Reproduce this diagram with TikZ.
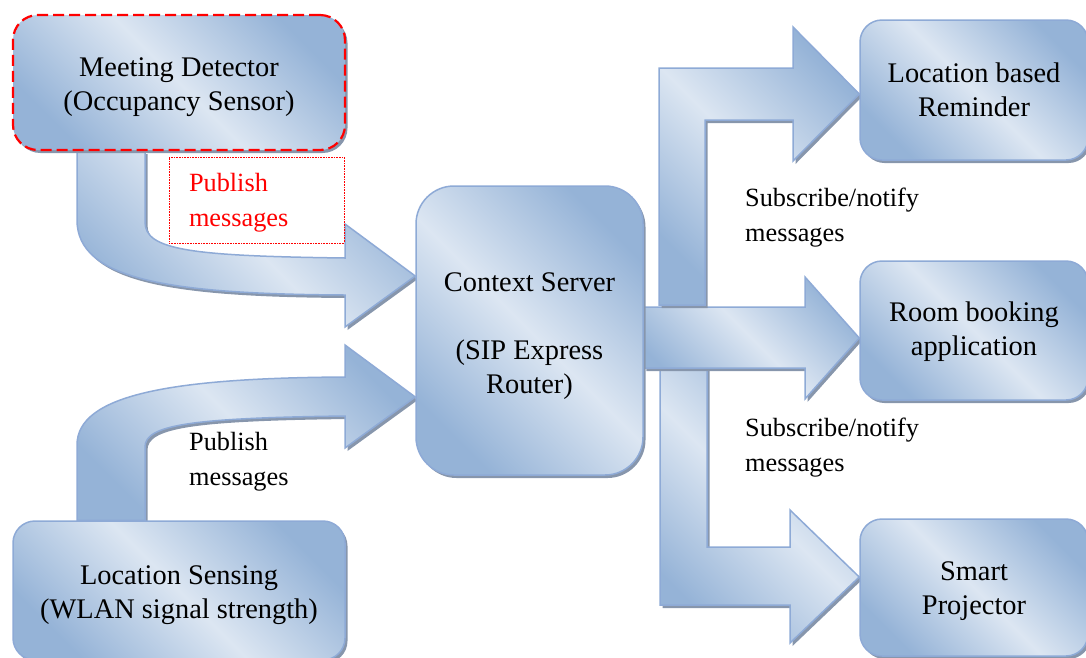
\documentclass[tikz,border=0pt]{standalone}
\usepackage{fontspec}
\setmainfont{Liberation Serif}
\usetikzlibrary{shadows}
\pgfdeclarelayer{background}
\pgfsetlayers{background,main}

\definecolor{boxdark}{HTML}{95B3D7}
\definecolor{boxlight}{HTML}{DCE6F2}
\definecolor{boxedge}{HTML}{8EAAD6}
\definecolor{shadowgrey}{HTML}{8796AC}

\newcommand\bigtext{\fontsize{28.4}{34}\selectfont}
\newcommand\smalltext{\fontsize{26.3}{35}\selectfont}
% invisible strut: a taller first line pushes the text block down
\newcommand\textdrop[1]{\rule{0pt}{#1}}

\tikzset{
  glossy/.style={draw=boxedge, line width=1.5pt,
    left color=boxdark, right color=boxdark, middle color=boxlight,
    shading angle=-45,
    drop shadow={shadow xshift=2.5pt, shadow yshift=-3pt, fill=shadowgrey, opacity=1}},
  unit/.style={glossy, rounded corners=22pt, align=center, font=\bigtext, inner sep=0pt},
  blockarrow/.style={glossy, line join=miter},
  note/.style={align=left, font=\smalltext, inner sep=0pt, anchor=west},
}

\begin{document}
\begin{tikzpicture}[x=1pt,y=-1pt]
\useasboundingbox (0,0) rectangle (1086,657);

% components
\node[unit, draw=red, line width=2.2pt, dash pattern=on 11pt off 5pt,
      rounded corners=25pt, minimum width=332pt, minimum height=135pt]
  (md) at (179,82.5) {\textdrop{29pt}Meeting Detector\\(Occupancy Sensor)};
\node[unit, minimum width=332pt, minimum height=139pt]
  (ls) at (179,590.5) {\textdrop{29pt}Location Sensing\\(WLAN signal strength)};
\node[unit, rounded corners=38pt, minimum width=227pt, minimum height=289pt]
  (cs) at (529.5,330.5) {\textdrop{31pt}Context Server\\[34pt](SIP Express\\Router)};
\node[unit, minimum width=228pt, minimum height=140pt]
  (lr) at (974,90) {Location based\\Reminder};
\node[unit, minimum width=228pt, minimum height=139pt]
  (rb) at (974,330.5) {\textdrop{23pt}Room booking\\application};
\node[unit, minimum width=228pt, minimum height=137pt]
  (sp) at (974,587.5) {\textdrop{27pt}Smart\\Projector};

% block arrows behind the components
\begin{pgfonlayer}{background}
  % publish: meeting detector -> context server
  \path[blockarrow] (md.south -| 77,0) -- (77,220)
    .. controls (77,280) and (170,294) .. (345,295)
    -- (345,327) -- (cs.west |- 0,276) -- (345,224) -- (345,258)
    .. controls (190,256) and (145,250) .. (145,222)
    -- (md.south -| 145,0) -- cycle;
  % publish: location sensing -> context server
  \path[blockarrow] (ls.north -| 77,0) -- (77,445)
    .. controls (77,395) and (170,378) .. (345,377)
    -- (345,345) -- (cs.west |- 0,397) -- (345,448) -- (345,416)
    .. controls (190,418) and (145,425) .. (145,447)
    -- (ls.north -| 145,0) -- cycle;
  % subscribe/notify: context server -> smart projector
  \path[blockarrow] (660,368) -- (707,368) -- (707,547) -- (790,547)
    -- (790,510) -- (sp.west |- 0,577) -- (790,643) -- (790,605)
    -- (660,605) -- cycle;
  % subscribe/notify: context server -> room booking
  \path[blockarrow] (cs.east |- 0,307) -- (805,307) -- (805,277)
    -- (rb.west |- 0,338) -- (805,399) -- (805,368)
    -- (cs.east |- 0,368) -- cycle;
  % subscribe/notify: context server -> location based reminder
  \path[blockarrow] (659,305) -- (659,68) -- (793,68) -- (793,27)
    -- (lr.west |- 0,94) -- (793,161) -- (793,120) -- (705,120)
    -- (705,305) -- cycle;
\end{pgfonlayer}

% labels
\node[draw=red, densely dotted, line width=0.6pt, fill=white, text=red,
      font=\smalltext, text width=135pt, inner xsep=20pt, inner ysep=0pt,
      minimum height=86pt, align=left]
  (pubA) at (256.5,200) {\textdrop{24pt}Publish\\messages};
\node[note] (pubB) at (189,462) {Publish\\messages};
\node[note] (subA) at (745,217.5) {Subscribe/notify\\messages};
\node[note] (subB) at (745,447.5) {Subscribe/notify\\messages};
\end{tikzpicture}
\end{document}
